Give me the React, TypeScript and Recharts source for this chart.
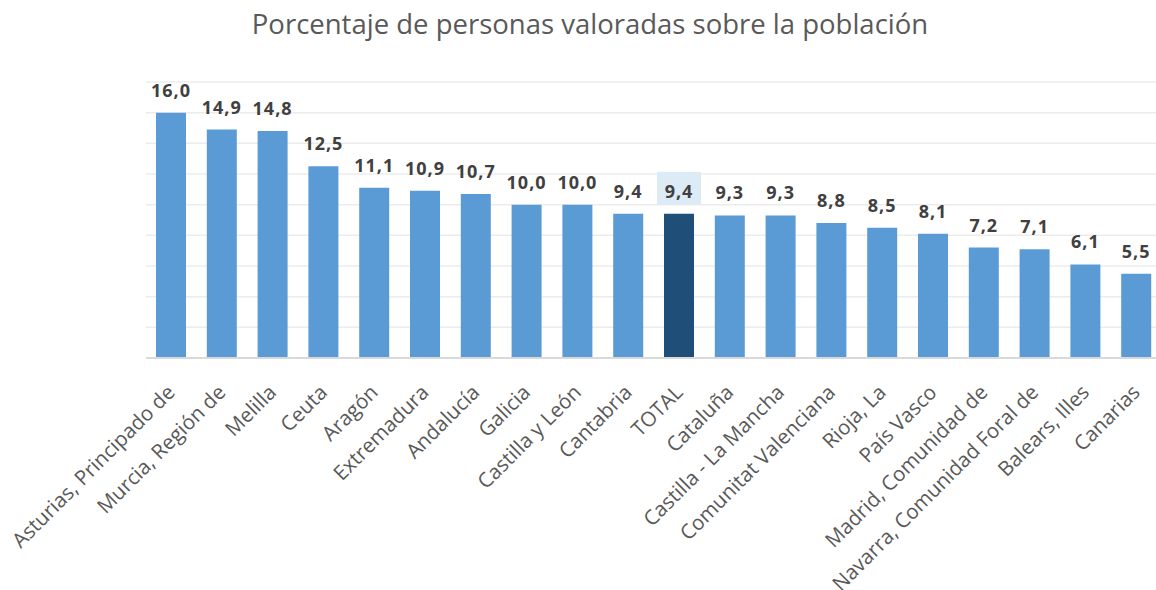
import React from "react"
import { BarChart, Bar, XAxis, YAxis, CartesianGrid, Cell, LabelList } from "recharts"

const categories = [
  "Asturias, Principado de",
  "Murcia, Región de",
  "Melilla",
  "Ceuta",
  "Aragón",
  "Extremadura",
  "Andalucía",
  "Galicia",
  "Castilla y León",
  "Cantabria",
  "TOTAL",
  "Cataluña",
  "Castilla - La Mancha",
  "Comunitat Valenciana",
  "Rioja, La",
  "País Vasco",
  "Madrid, Comunidad de",
  "Navarra, Comunidad Foral de",
  "Balears, Illes",
  "Canarias",
]

const values = [16.0, 14.9, 14.8, 12.5, 11.1, 10.9, 10.7, 10.0, 10.0, 9.4, 9.4, 9.3, 9.3, 8.8, 8.5, 8.1, 7.2, 7.1, 6.1, 5.5]

const yTicks = [0, 2, 4, 6, 8, 10, 12, 14, 16, 18]

const highlight = "TOTAL"

const data = categories.map((name, i) => ({ name, value: values[i] }))

const fmt = (v: number) => v.toFixed(1).replace(".", ",")

function AxisTick(props: any) {
  const { x, y, payload } = props
  return (
    <text
      transform={`translate(${x - 1},${y + 22}) rotate(-45)`}
      textAnchor="end"
      dominantBaseline="central"
      fontFamily="'Open Sans', sans-serif"
      fontSize={20.5}
      fill="#595959"
    >
      {payload.value}
    </text>
  )
}

function ValueLabel(props: any) {
  const { x, y, width, value, index } = props
  const cx = x + width / 2
  const isTotal = categories[index] === highlight
  return (
    <g>
      {isTotal && <rect x={cx - 22} y={y - 42} width={44} height={33} fill="#DDEBF7" />}
      <text
        x={cx}
        y={y - 16}
        textAnchor="middle"
        fontFamily="'Open Sans', sans-serif"
        fontWeight="bold"
        fontSize={18}
        letterSpacing={1}
        fill="#404040"
      >
        {fmt(value)}
      </text>
    </g>
  )
}

export default function App() {
  return (
    <div style={{ position: "absolute", left: 0, top: 0, width: 1156, height: 590, overflow: "hidden", background: "#fff" }}>
      <div
        style={{
          position: "absolute",
          top: 5,
          left: 0,
          width: 1180,
          textAlign: "center",
          fontFamily: "'Open Sans', sans-serif",
          fontSize: 27.5,
          color: "#595959",
        }}
      >
        Porcentaje de personas valoradas sobre la población
      </div>
      <BarChart
        width={1170}
        height={590}
        data={data}
        margin={{ top: 82, right: 8, bottom: 0, left: 146 }}
        barSize={30}
      >
        <CartesianGrid vertical={false} stroke="#ececec" strokeWidth={1.5} />
        <XAxis
          dataKey="name"
          interval={0}
          tickLine={false}
          axisLine={{ stroke: "#d9d9d9", strokeWidth: 2 }}
          tick={<AxisTick />}
          height={232}
        />
        <YAxis hide domain={[0, 18]} ticks={yTicks} />
        <Bar dataKey="value" isAnimationActive={false}>
          {data.map((d) => (
            <Cell key={d.name} fill={d.name === highlight ? "#1F4E79" : "#5B9BD5"} />
          ))}
          <LabelList dataKey="value" content={<ValueLabel />} />
        </Bar>
      </BarChart>
    </div>
  )
}
